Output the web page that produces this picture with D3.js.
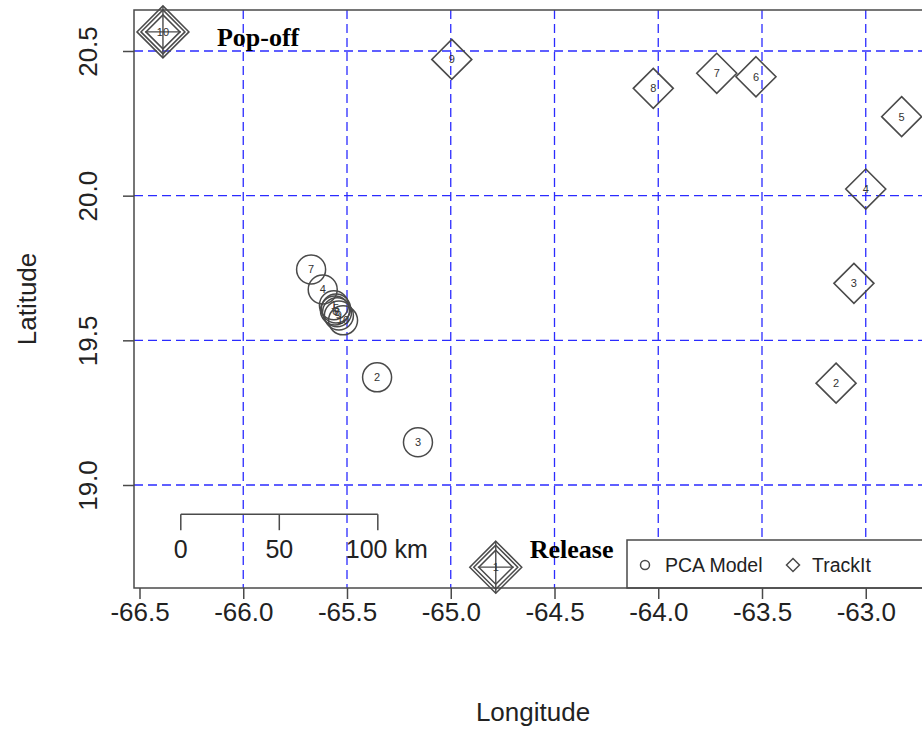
<!DOCTYPE html>
<html>
<head>
<meta charset="utf-8">
<script src="https://cdn.jsdelivr.net/npm/d3@7"></script>
<style>
  body { margin: 0; background: #fff; }
  text { font-family: "Liberation Sans", Arial, sans-serif; }
  text.event { font-family: "Liberation Serif", "Times New Roman", serif; font-weight: bold; }
</style>
</head>
<body>
<svg id="chart" width="922" height="730"></svg>
<script>
// axis ticks
const xTicks = [-66.5, -66.0, -65.5, -65.0, -64.5, -64.0, -63.5, -63.0];
const yTicks = [19.0, 19.5, 20.0, 20.5];
const gridLon = [-66.0, -65.5, -65.0, -64.5, -64.0, -63.5, -63.0];
const gridLat = [19.0, 19.5, 20.0, 20.5];

// TrackIt positions, day 1..10
const trackId = [1, 2, 3, 4, 5, 6, 7, 8, 9, 10];
const trackLon = [-64.783, -63.143, -63.057, -63.0, -62.827, -63.529, -63.718, -64.024, -64.995, -66.387];
const trackLat = [18.716, 19.352, 19.697, 20.023, 20.273, 20.411, 20.423, 20.371, 20.471, 20.566];

// PCA model positions, day 1..10
const pcaId = [1, 2, 3, 4, 5, 6, 7, 8, 9, 10];
const pcaLon = [-65.563, -65.355, -65.158, -65.617, -65.553, -65.558, -65.673, -65.548, -65.539, -65.519];
const pcaLat = [19.621, 19.372, 19.148, 19.676, 19.610, 19.603, 19.745, 19.597, 19.586, 19.569];

// highlighted ends of the TrackIt track
const eventIds = [1, 10];
const eventNames = ['Release', 'Pop-off'];

// scale bar
const scaleKm = [0, 50, 100];
const scaleStart = [-66.301, 18.899];

const legendNames = ['PCA Model', 'TrackIt'];

const svg = d3.select('#chart');
svg.append('rect').attr('width', 922).attr('height', 730).attr('fill', '#fff');

const box = { left: 134, right: 932, top: 10, bottom: 588 };

const x = d3.scaleLinear().domain([-66.5, -63.0]).range([139.5, 865.75]);
const y = d3.scaleLinear().domain([19.0, 20.5]).range([485, 51]);

const ink = '#4a4a4a';

// grid
svg.append('g')
  .selectAll('line')
  .data(gridLon)
  .join('line')
  .attr('x1', (d) => x(d)).attr('x2', (d) => x(d))
  .attr('y1', box.top).attr('y2', box.bottom)
  .attr('stroke', '#2b2bff').attr('stroke-width', 1.3)
  .attr('stroke-dasharray', '9,5');

svg.append('g')
  .selectAll('line')
  .data(gridLat)
  .join('line')
  .attr('x1', box.left).attr('x2', box.right)
  .attr('y1', (d) => y(d)).attr('y2', (d) => y(d))
  .attr('stroke', '#2b2bff').attr('stroke-width', 1.3)
  .attr('stroke-dasharray', '9,5');

function diamondPath(r) {
  return 'M0,' + -r + 'L' + r + ',0L0,' + r + 'L' + -r + ',0Z';
}

// PCA circles
const pca = svg.append('g')
  .selectAll('g')
  .data(pcaId)
  .join('g')
  .attr('transform', (d, i) => 'translate(' + x(pcaLon[i]) + ',' + y(pcaLat[i]) + ')');
pca.append('circle').attr('r', 14.5).attr('fill', 'none').attr('stroke', ink).attr('stroke-width', 1.5);
pca.append('text')
  .attr('text-anchor', 'middle').attr('dy', '0.36em')
  .attr('font-size', 11).attr('fill', '#333')
  .text((d) => d);

// TrackIt diamonds
const track = svg.append('g')
  .selectAll('g')
  .data(trackId)
  .join('g')
  .attr('transform', (d, i) => 'translate(' + x(trackLon[i]) + ',' + y(trackLat[i]) + ')');
track.filter((d) => !eventIds.includes(d))
  .append('path').attr('d', diamondPath(20)).attr('fill', 'none').attr('stroke', ink).attr('stroke-width', 1.6);

const ev = track.filter((d) => eventIds.includes(d));
[26, 22, 17].forEach(function(r) {
  ev.append('path').attr('d', diamondPath(r)).attr('fill', 'none').attr('stroke', ink).attr('stroke-width', 1.5);
});
ev.append('line').attr('x1', 0).attr('x2', 0).attr('y1', -26).attr('y2', 26).attr('stroke', ink).attr('stroke-width', 1.4);
ev.append('line').attr('x1', -18).attr('x2', 18).attr('y1', 0).attr('y2', 0).attr('stroke', ink).attr('stroke-width', 1.4);

track.append('text')
  .attr('text-anchor', 'middle').attr('dy', '0.36em')
  .attr('font-size', 11).attr('fill', '#333')
  .text((d) => d);

// event names
eventIds.forEach(function(id, k) {
  const i = trackId.indexOf(id);
  const isRelease = eventNames[k] === 'Release';
  svg.append('text')
    .attr('class', 'event')
    .attr('x', x(trackLon[i]) + (isRelease ? 34 : 54))
    .attr('y', y(trackLat[i]) + (isRelease ? -9 : 14))
    .attr('font-size', 26)
    .attr('fill', '#000')
    .text(eventNames[k]);
});

// scale bar
const kmPerDeg = 111.32 * Math.cos(scaleStart[1] * Math.PI / 180);
const sbX = (km) => x(scaleStart[0] + km / kmPerDeg);
const sbY = y(scaleStart[1]);
const sb = svg.append('g').attr('stroke', ink).attr('stroke-width', 1.5);
sb.append('line').attr('x1', sbX(0)).attr('x2', sbX(d3.max(scaleKm))).attr('y1', sbY).attr('y2', sbY);
sb.selectAll('.tk')
  .data(scaleKm)
  .join('line')
  .attr('x1', (d) => sbX(d)).attr('x2', (d) => sbX(d))
  .attr('y1', sbY).attr('y2', sbY + 16);
svg.append('g')
  .selectAll('text')
  .data(scaleKm)
  .join('text')
  .attr('x', (d, i) => (i === scaleKm.length - 1 ? sbX(d) - 32 : sbX(d)))
  .attr('y', sbY + 44)
  .attr('text-anchor', (d, i) => (i === scaleKm.length - 1 ? 'start' : 'middle'))
  .attr('font-size', 25)
  .attr('fill', '#222')
  .text((d, i) => (i === scaleKm.length - 1 ? d + ' km' : d));

// legend
const leg = svg.append('g');
leg.append('rect')
  .attr('x', 627).attr('y', 540).attr('width', 320).attr('height', 48)
  .attr('fill', '#fff').attr('stroke', ink).attr('stroke-width', 1.5);
leg.append('circle').attr('cx', 645).attr('cy', 565).attr('r', 4.5)
  .attr('fill', 'none').attr('stroke', ink).attr('stroke-width', 1.5);
leg.append('path').attr('transform', 'translate(793,565)').attr('d', diamondPath(6.5))
  .attr('fill', 'none').attr('stroke', ink).attr('stroke-width', 1.5);
leg.selectAll('text')
  .data(legendNames)
  .join('text')
  .attr('x', (d, i) => (i === 0 ? 665 : 812))
  .attr('y', 572)
  .attr('font-size', 19.5)
  .attr('fill', '#222')
  .text((d) => d);

// plot box
svg.append('rect')
  .attr('x', box.left).attr('y', box.top)
  .attr('width', box.right - box.left).attr('height', box.bottom - box.top)
  .attr('fill', 'none').attr('stroke', ink).attr('stroke-width', 1.5);

// axes
const xAxis = svg.append('g')
  .attr('transform', 'translate(0,' + box.bottom + ')')
  .call(d3.axisBottom(x).tickValues(xTicks).tickSize(11).tickPadding(4).tickFormat(d3.format('.1f')));
xAxis.select('.domain').remove();
xAxis.selectAll('line').attr('stroke', ink).attr('stroke-width', 1.5);
xAxis.selectAll('text').attr('font-size', 26).attr('fill', '#222')
  .attr('font-family', null)
  .text((d) => d3.format('.1f')(d).replace('\u2212', '-'));

const yAxis = svg.append('g')
  .attr('transform', 'translate(' + box.left + ',0)')
  .call(d3.axisLeft(y).tickValues(yTicks).tickSize(11).tickFormat(d3.format('.1f')));
yAxis.select('.domain').remove();
yAxis.selectAll('line').attr('stroke', ink).attr('stroke-width', 1.5);
yAxis.selectAll('text')
  .attr('x', null).attr('dy', null)
  .attr('transform', 'translate(-37,0) rotate(-90)')
  .attr('text-anchor', 'middle')
  .attr('font-size', 26).attr('fill', '#222');

svg.append('text')
  .attr('x', (box.left + box.right) / 2).attr('y', 721)
  .attr('text-anchor', 'middle').attr('font-size', 26).attr('fill', '#222')
  .text('Longitude');

svg.append('text')
  .attr('transform', 'translate(36,' + (box.top + box.bottom) / 2 + ') rotate(-90)')
  .attr('text-anchor', 'middle').attr('font-size', 26).attr('fill', '#222')
  .text('Latitude');
</script>
</body>
</html>
